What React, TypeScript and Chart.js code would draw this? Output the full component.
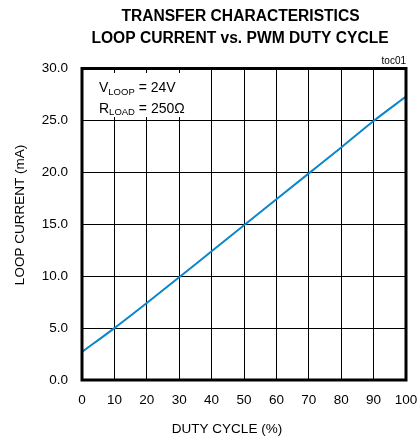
import React, { useEffect, useRef } from "react";
import { Chart, registerables } from "chart.js";

Chart.register(...registerables);

const dutyCycle = [0, 10, 20, 30, 40, 50, 60, 70, 80, 90, 100];
const loopCurrent = [2.7, 5.0, 7.42, 9.9, 12.4, 14.9, 17.4, 19.9, 22.4, 24.95, 27.3];
const titleLines = ["TRANSFER CHARACTERISTICS", "LOOP CURRENT vs. PWM DUTY CYCLE"];
const xTitle = "DUTY CYCLE (%)";
const yTitle = "LOOP CURRENT (mA)";
const tocLabel = "toc01";

const FONT = "'Liberation Sans', Arial, sans-serif";

const overlay = {
  id: "overlay",
  beforeDatasetsDraw(chart: any) {
    const { ctx, chartArea } = chart;
    ctx.save();
    ctx.fillStyle = "#fff";
    ctx.fillRect(chartArea.left + 2, 73, 200 - chartArea.left, 44);
    ctx.fillStyle = "#000";
    ctx.textBaseline = "alphabetic";
    ctx.textAlign = "left";
    // V_LOOP = 24V
    let x = 99;
    ctx.font = `14px ${FONT}`;
    ctx.fillText("V", x, 92);
    x += ctx.measureText("V").width;
    ctx.font = `9.5px ${FONT}`;
    ctx.fillText("LOOP", x, 94.5);
    x += ctx.measureText("LOOP").width;
    ctx.font = `14px ${FONT}`;
    ctx.fillText(" = 24V", x, 92);
    // R_LOAD = 250Ω
    x = 99;
    ctx.fillText("R", x, 112.5);
    x += ctx.measureText("R").width;
    ctx.font = `9.5px ${FONT}`;
    ctx.fillText("LOAD", x, 115);
    x += ctx.measureText("LOAD").width;
    ctx.font = `14px ${FONT}`;
    ctx.fillText(" = 250\u03A9", x, 112.5);
    ctx.restore();
  },
  afterDraw(chart: any) {
    const { ctx, chartArea } = chart;
    ctx.save();
    ctx.strokeStyle = "#000";
    ctx.lineWidth = 3;
    ctx.strokeRect(chartArea.left, chartArea.top, chartArea.right - chartArea.left, chartArea.bottom - chartArea.top);
    ctx.fillStyle = "#000";
    ctx.textAlign = "center";
    ctx.textBaseline = "alphabetic";
    ctx.font = `bold 15.6px ${FONT}`;
    ctx.fillText(titleLines[0], 240.5, 21);
    ctx.fillText(titleLines[1], 240, 43);
    ctx.font = `13.5px ${FONT}`;
    ctx.fillText(xTitle, 227, 432.5);
    ctx.save();
    ctx.translate(23.5, 215);
    ctx.rotate(-Math.PI / 2);
    ctx.fillText(yTitle, 0, 0);
    ctx.restore();
    ctx.textAlign = "right";
    ctx.font = `10px ${FONT}`;
    ctx.fillText(tocLabel, 406, 64);
    ctx.restore();
  },
};

export default function App() {
  const ref = useRef<HTMLCanvasElement>(null);
  useEffect(() => {
    document.body.style.margin = "0";
    const chart = new Chart(ref.current as HTMLCanvasElement, {
      type: "line",
      data: {
        datasets: [
          {
            data: dutyCycle.map((d, i) => ({ x: d, y: loopCurrent[i] })),
            borderColor: "#0a86cc",
            borderWidth: 2,
            pointRadius: 0,
            cubicInterpolationMode: "monotone",
            fill: false,
          },
        ],
      },
      options: {
        responsive: false,
        animation: false,
        devicePixelRatio: 1,
        layout: { padding: { top: 68.5, right: 11, left: 0, bottom: 0 } },
        plugins: { legend: { display: false }, tooltip: { enabled: false }, title: { display: false } },
        scales: {
          x: {
            type: "linear",
            min: 0,
            max: 100,
            afterFit: (s: any) => { s.height = 61; s.paddingLeft = 0; s.paddingRight = 0; },
            ticks: { stepSize: 10, color: "#000", font: { family: FONT, size: 13.5 }, padding: 12, maxRotation: 0 },
            grid: { color: "#000", lineWidth: 1, drawTicks: false },
            border: { display: false },
          },
          y: {
            min: 0,
            max: 30,
            afterFit: (s: any) => { s.width = 82; s.paddingTop = 0; s.paddingBottom = 0; },
            ticks: {
              stepSize: 5,
              color: "#000",
              font: { family: FONT, size: 13.5 },
              padding: 14,
              callback: (v: any) => Number(v).toFixed(1),
            },
            grid: { color: "#000", lineWidth: 1, drawTicks: false },
            border: { display: false },
          },
        },
      },
      plugins: [overlay],
    });
    return () => chart.destroy();
  }, []);
  return (
    <div style={{ position: "absolute", left: 0, top: 0, width: 417, height: 441, background: "#fff" }}>
      <canvas ref={ref} width={417} height={441} />
    </div>
  );
}
